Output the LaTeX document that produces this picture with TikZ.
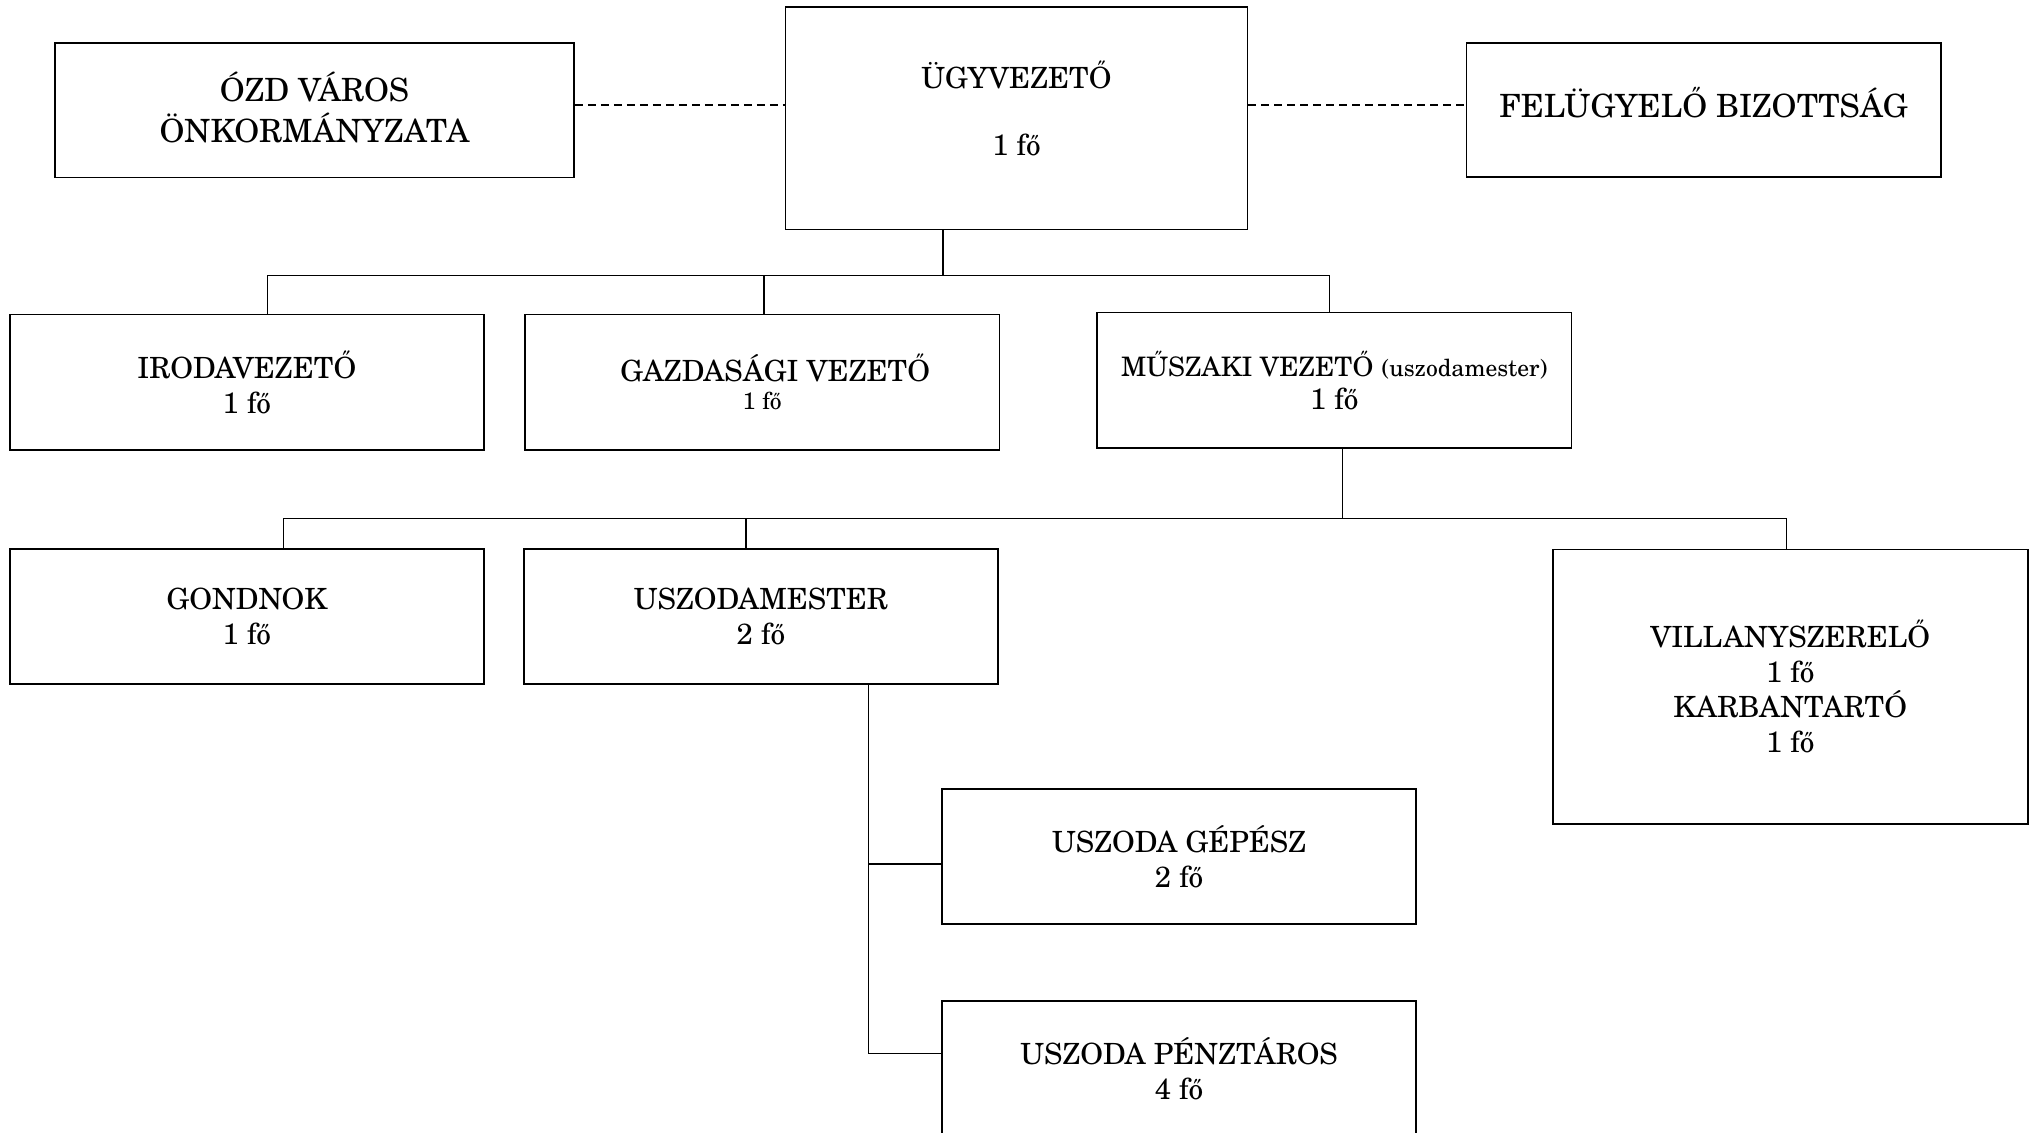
\documentclass[tikz,border=0pt]{standalone}
\usepackage{fontspec}
\setmainfont{texgyreschola-regular.otf}
\newcommand\myNormal{\fontsize{14.6pt}{17.5pt}\selectfont}
\newcommand\myMid{\fontsize{13.4pt}{17.5pt}\selectfont}
\newcommand\myBig{\fontsize{16pt}{20.75pt}\selectfont}
\newcommand\mySmall{\fontsize{11.8pt}{15pt}\selectfont}
\tikzset{
  box/.style={draw, line width=0.85pt, align=center, inner sep=0pt, font=\myNormal},
  smallbox/.style={box, minimum width=237.2pt, minimum height=67.6pt},
  conn/.style={line width=0.65pt},
  dashline/.style={line width=0.8pt, dash pattern=on 4pt off 2.5pt}
}
\begin{document}
\begin{tikzpicture}[x=0.5pt,y=-0.5pt]
\useasboundingbox (0,0) rectangle (2032,1133);
% boxes
\node[box, minimum width=259.5pt, minimum height=67.4pt, font=\myBig] (ozd) at (314.5,110.1) {ÓZD VÁROS\\ÖNKORMÁNYZATA\rule[-3pt]{0pt}{0pt}};
\node[box, minimum width=231pt, minimum height=111.1pt] (ugy) at (1016.5,118.4) {ÜGYVEZETŐ\\[16pt]1 fő\rule[-9.9pt]{0pt}{0pt}};
\node[box, minimum width=237.2pt, minimum height=67.3pt, font=\myBig] (fel) at (1703.6,110) {FELÜGYELŐ BIZOTTSÁG\rule[-8pt]{0pt}{0pt}};
\node[smallbox] (iroda) at (246.9,382.2) {IRODAVEZETŐ\\1 fő};
\node[smallbox] (gazd) at (762.2,382.2) {\hspace*{13pt}GAZDASÁGI VEZETŐ\\[-3.5pt]{\mySmall 1 fő}};
\node[smallbox] (musz) at (1334.2,380.2) {{\myMid MŰSZAKI VEZETŐ} {\mySmall (uszodamester)}\\[-1pt]1 fő};
\node[smallbox] (gond) at (246.9,616.4) {GONDNOK\\1 fő};
\node[smallbox] (usz) at (760.9,616.4) {USZODAMESTER\\2 fő};
\node[box, minimum width=237.5pt, minimum height=137.1pt] (vill) at (1790.2,686.7) {VILLANYSZERELŐ\\1 fő\\KARBANTARTÓ\\1 fő};
\node[smallbox] (gep) at (1179.1,856.4) {USZODA GÉPÉSZ\\2 fő};
\node[smallbox] (penz) at (1179.1,1068.4) {USZODA PÉNZTÁROS\\4 fő};
% dashed links
\coordinate (d) at (0,105);
\draw[dashline] (ozd.east |- d) -- (ugy.west |- d);
\draw[dashline] (ugy.east |- d) -- (fel.west |- d);
% tree 1
\coordinate (j1) at (943,275.3);
\coordinate (j1l) at (267.7,275.3);
\coordinate (j1m) at (764,275.3);
\coordinate (j1r) at (1329.7,275.3);
\draw[conn] (ugy.south -| j1) -- (j1);
\draw[conn] (iroda.north -| j1l) -- (j1l) -- (j1r) -- (musz.north -| j1r);
\draw[conn] (j1m) -- (gazd.north -| j1m);
% tree 2
\coordinate (j2) at (1342.4,518.75);
\coordinate (j2l) at (283.2,518.75);
\coordinate (j2m) at (746,518.75);
\coordinate (j2r) at (1786.6,518.75);
\draw[conn] (musz.south -| j2) -- (j2);
\draw[conn] (gond.north -| j2l) -- (j2l) -- (j2r) -- (vill.north -| j2r);
\draw[conn] (j2m) -- (usz.north -| j2m);
% tree 3
\coordinate (j3a) at (868.4,864);
\coordinate (j3b) at (868.4,1053.75);
\draw[conn] (usz.south -| j3b) -- (j3b) -- (penz.west |- j3b);
\draw[conn] (j3a) -- (gep.west |- j3a);
\end{tikzpicture}
\end{document}
